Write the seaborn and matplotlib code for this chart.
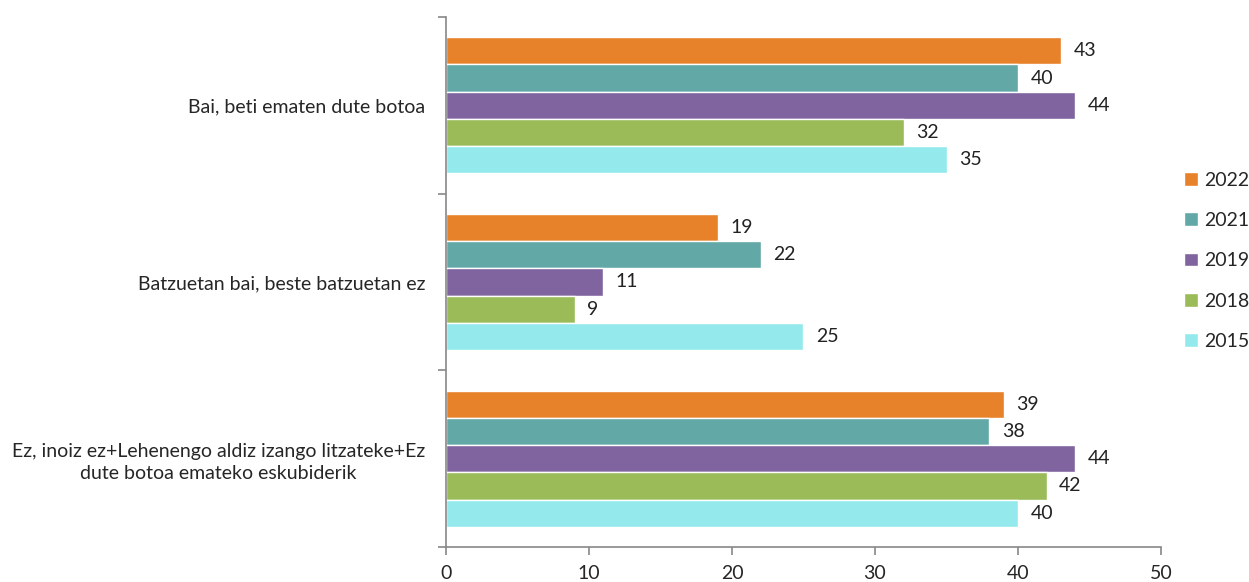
import matplotlib
matplotlib.use("Agg")
import matplotlib.pyplot as plt
import seaborn as sns
import pandas as pd
import numpy as np

# data
categories = [
    "Bai, beti ematen dute botoa",
    "Batzuetan bai, beste batzuetan ez",
    "Ez, inoiz ez+Lehenengo aldiz izango litzateke+Ez\ndute botoa emateko eskubiderik",
]
years = ["2022", "2021", "2019", "2018", "2015"]
v2022 = [43, 19, 39]
v2021 = [40, 22, 38]
v2019 = [44, 11, 44]
v2018 = [32, 9, 42]
v2015 = [35, 25, 40]
colors = ["#E8822A", "#62A8A6", "#8064A0", "#9BBB59", "#94E9EC"]

values = [v2022, v2021, v2019, v2018, v2015]
rows = []
for year, vals in zip(years, values):
    for cat, v in zip(categories, vals):
        rows.append({"category": cat, "year": year, "value": v})
df = pd.DataFrame(rows)

sns.set_style("white")
plt.rcParams["font.family"] = ["Lato", "DejaVu Sans"]
fs = 14

fig = plt.figure(figsize=(12.49, 5.82), dpi=100)
ax = fig.add_axes([0.357, 0.060, 0.5726, 0.911])

sns.barplot(data=df, y="category", x="value", hue="year", hue_order=years,
            palette=colors, width=0.77, orient="h", ax=ax, saturation=1)

for cont in ax.containers:
    ax.bar_label(cont, padding=9, fontsize=fs, color="#222222")

ax.set_xlim(0, 50)
ax.set_ylim(2.5, -0.5)
ax.set_xticks(np.arange(0, 51, 10))
ax.set_xlabel("")
ax.set_ylabel("")

# tick marks between groups, labels centred on groups
ax.set_yticks(np.arange(-0.5, 3, 1), minor=True)
ax.tick_params(axis="y", which="major", length=0, labelsize=fs, pad=15)
ax.tick_params(axis="y", which="minor", length=6, color="#888888", width=1.2, left=True)
ax.tick_params(axis="x", length=6, color="#888888", width=1.2, labelsize=fs,
               pad=7, bottom=True)
for lab in ax.get_yticklabels():
    lab.set_ha("right")
    lab.set_multialignment("center")
    lab.set_linespacing(1.35)

sns.despine(ax=ax)
for s in ["left", "bottom"]:
    ax.spines[s].set_color("#888888")
    ax.spines[s].set_linewidth(1.2)

leg = ax.legend(loc="center left", bbox_to_anchor=(1.032, 0.54), frameon=False,
                fontsize=fs, handlelength=0.7, handleheight=0.7,
                labelspacing=1.2, handletextpad=0.35, borderaxespad=0,
                borderpad=0)

fig.savefig("out.png", dpi=100)
